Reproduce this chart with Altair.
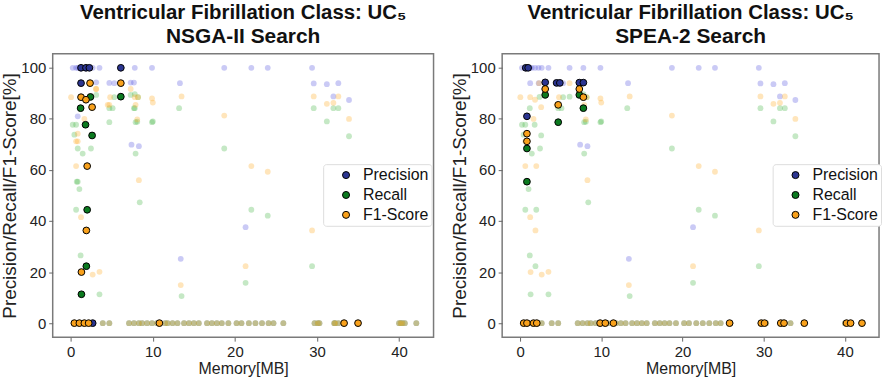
import altair as alt
import pandas as pd

METRICS = ["Precision", "Recall", "F1-Score"]
FAINT_COLORS = ["#5a5ae0", "#4cb84c", "#ffae2a"]
STRONG_COLORS = ["#2b3591", "#0b7a1f", "#f9a11b"]

# memory values where all three metrics are 0 (whole population)
zero_mem = [0.44, 0.85, 1.05, 1.66, 2.06, 2.18, 2.67, 3.9, 4.7, 7.1, 7.7, 8.3, 8.7, 9.3,
            9.9, 10.5, 10.8, 11.5, 11.8, 12.4, 13.0, 13.8, 14.4, 15.0, 15.6, 16.6, 17.2,
            17.8, 18.4, 19.2, 20.2, 20.8, 21.7, 22.5, 23.3, 24.1, 24.7, 25.9, 29.7, 30.1,
            30.3, 32.1, 32.2, 32.6, 33.3, 35.0, 40.0, 40.2, 40.4, 40.7, 42.1]

# whole population (faint points), non-zero values
prec_mem = [0.24, 0.65, 0.85, 1.05, 1.25, 1.45, 1.85, 2.27, 2.67, 3.5, 6.1, 7.8, 9.9, 18.7,
            22.0, 24.0, 29.4, 1.25, 2.3, 3.1, 4.7, 5.3, 7.3, 7.7, 13.3, 29.6, 31.2, 32.6,
            0.85, 7.4, 8.3, 13.4, 21.3, 32.0, 33.9]
prec_val = [100, 100, 100, 100, 100, 100, 100, 100, 100, 100, 100, 100, 100, 100,
            100, 100, 100, 94, 94, 94.3, 94.1, 94, 94.2, 94.2, 94, 93.9, 93.6, 94.0,
            81, 69.9, 69.3, 25.2, 37.6, 88.8, 87.4]
rec_mem = [2.4, 6.1, 3.1, 7.3, 5.3, 7.8, 8.2, 1.2, 4.7, 5.1, 7.7, 13.2, 29.6, 32.0, 32.6,
           7.8, 1.8, 0.24, 0.65, 4.7, 7.9, 8.1, 9.9, 10.0, 31.2, 2.6, 0.44, 33.9, 0.85,
           2.46, 18.7, 1.45, 7.9, 0.73, 0.85, 1.05, 8.4, 2.0, 0.65, 22.0, 24.0, 1.2, 1.9,
           29.4, 21.3, 1.3, 3.5, 13.5]
rec_val = [88.6, 88.7, 89.4, 89.4, 88.5, 89.7, 88.5, 84.2, 84.2, 84.2, 84.2, 84.2, 84.2,
           84.2, 84.2, 84.2, 77.7, 77.7, 77.7, 78.7, 78.7, 78.9, 78.7, 79.0, 79.0, 73.5,
           73.8, 73.2, 68.4, 68.4, 68.4, 66.4, 66.4, 55.4, 55.4, 52.5, 47.3, 44.4, 44.4,
           44.4, 42.1, 26.5, 22.3, 22.3, 15.8, 11.3, 11.3, 10.6]
f1_mem = [2.35, 6.1, 3.1, 3.07, 7.3, 1.25, 0.04, 4.8, 7.8, 8.2, 13.5, 29.6, 32.6, 9.9,
          1.85, 10.0, 32.0, 31.2, 4.5, 7.9, 4.7, 2.6, 18.7, 1.66, 33.9, 8.1, 0.85, 0.65,
          0.85, 2.0, 0.65, 22.0, 24.0, 8.3, 1.25, 1.9, 29.4, 21.3, 1.3, 3.5, 2.67, 13.4]
f1_val = [94, 94, 91.7, 91.7, 91.7, 88.5, 88.5, 88.5, 88.5, 88.5, 88.8, 88.8, 88.8, 88,
          87.5, 86.4, 86.3, 85.9, 85.5, 85.5, 85.5, 84.6, 81.3, 80, 80, 79.8, 74.2, 71.2,
          71.2, 61.5, 61.5, 61.5, 59.3, 56, 41.5, 36.3, 36.3, 22.3, 20.0, 20.1, 19, 14.9]

# NSGA-II front (highlighted)
nsga_prec_mem = [1.25, 1.85, 2.27, 6.1, 1.25, 2.67]
nsga_prec_val = [100, 100, 100, 100, 94, 0]
nsga_rec_mem = [2.4, 6.1, 1.2, 1.8, 2.6, 2.0, 1.9, 1.3]
nsga_rec_val = [88.6, 88.7, 84.2, 77.7, 73.5, 44.4, 22.3, 11.3]
nsga_f1_mem = [2.35, 6.1, 1.25, 1.85, 2.6, 2.0, 1.9, 1.3, 0.44, 1.05, 1.66, 2.18, 10.8, 33.3, 35.0]
nsga_f1_val = [94, 94, 88.5, 87.5, 84.6, 61.5, 36.3, 20.0, 0, 0, 0, 0, 0, 0, 0]

# SPEA-2 front (highlighted)
spea_prec_mem = [0.7, 1.0, 3.1, 4.5, 4.9, 7.3, 7.8, 0.85]
spea_prec_val = [100, 100, 94.3, 94.1, 94.1, 94.2, 94.2, 81]
spea_rec_mem = [3.1, 4.7, 7.3, 7.8, 0.85, 0.85]
spea_rec_val = [89.4, 78.7, 89.4, 84.2, 68.4, 55.4]
spea_f1_mem = [3.1, 4.7, 7.3, 7.8, 0.85, 0.85, 0.45, 0.85, 1.66, 2.06, 9.86, 10.5, 11.5,
               25.8, 29.7, 30.1, 32.1, 32.5, 35.0, 40.2, 40.7, 42.1]
spea_f1_val = [91.7, 85.5, 91.7, 88.5, 74.2, 71.2, 0, 0, 0, 0, 0, 0, 0,
               0, 0, 0, 0, 0, 0, 0, 0, 0]

TITLE = "Ventricular Fibrillation Class: UC\u2085"
SUBTITLES = ["NSGA-II Search", "SPEA-2 Search"]


def frame(series):
    rows = []
    for k, (name, xs, ys) in enumerate(series):
        for x, y in zip(xs, ys):
            rows.append({"mem": x, "val": y, "metric": name, "k": k})
    return pd.DataFrame(rows)


all_df = frame([
    ("Precision", prec_mem + zero_mem, prec_val + [0] * len(zero_mem)),
    ("Recall", rec_mem + zero_mem, rec_val + [0] * len(zero_mem)),
    ("F1-Score", f1_mem + zero_mem, f1_val + [0] * len(zero_mem)),
])
nsga_df = frame([
    ("Precision", nsga_prec_mem, nsga_prec_val),
    ("Recall", nsga_rec_mem, nsga_rec_val),
    ("F1-Score", nsga_f1_mem, nsga_f1_val),
])
spea_df = frame([
    ("Precision", spea_prec_mem, spea_prec_val),
    ("Recall", spea_rec_mem, spea_rec_val),
    ("F1-Score", spea_f1_mem, spea_f1_val),
])

FONT = "Liberation Sans"


def panel(subtitle, hl_df, w):
    x = alt.X("mem:Q", scale=alt.Scale(domain=[-2.2, 44.2], nice=False, zero=False),
              axis=alt.Axis(values=[0, 10, 20, 30, 40], title="Memory[MB]"))
    y = alt.Y("val:Q", scale=alt.Scale(domain=[-5.5, 105.5], nice=False, zero=False),
              axis=alt.Axis(values=[0, 20, 40, 60, 80, 100],
                            title="Precision/Recall/F1-Score[%]",
                            titleFontSize=19, titlePadding=1))
    faint = alt.Chart(all_df).mark_circle(size=34, opacity=0.32).encode(
        x=x, y=y,
        fill=alt.Fill("metric:N", scale=alt.Scale(domain=METRICS, range=FAINT_COLORS), legend=None),
        order=alt.Order("k:Q"),
    )
    strong = alt.Chart(hl_df).mark_circle(size=46, opacity=1, stroke="black", strokeWidth=1).encode(
        x=x, y=y,
        fill=alt.Fill("metric:N", scale=alt.Scale(domain=METRICS, range=STRONG_COLORS),
                      legend=alt.Legend(orient="none", legendX=272, legendY=111, title=None,
                                        labelFontSize=16, labelFont=FONT, labelColor="#111",
                                        symbolType="circle", symbolSize=50,
                                        symbolStrokeColor="black", symbolStrokeWidth=1,
                                        symbolOffset=12, labelOffset=9,
                                        padding=3, rowPadding=4, strokeColor="#dddddd",
                                        fillColor="white", cornerRadius=3)),
        order=alt.Order("k:Q"),
    )
    return alt.layer(faint, strong).resolve_scale(fill="independent").properties(
        width=w, height=285,
        title=alt.TitleParams(TITLE, subtitle=subtitle,
                              fontSize=20.5, font=FONT, fontWeight="bold", color="#111",
                              subtitleFontSize=21, subtitleFont=FONT, subtitleFontWeight="bold",
                              subtitleColor="#111", subtitlePadding=2,
                              anchor="middle", offset=7),
    )


chart = alt.hconcat(panel(SUBTITLES[0], nsga_df, 383), panel(SUBTITLES[1], spea_df, 379),
                    spacing=15).resolve_scale(fill="independent").resolve_legend(
    fill="independent").properties(
    padding={"left": 0, "top": 1, "right": 2, "bottom": 2}
).configure_view(stroke="#7a7a7a", strokeWidth=1.5).configure_axis(
    domain=False, grid=False, tickColor="#666", tickSize=4, labelFontSize=15,
    titleFontSize=16, labelFont=FONT, titleFont=FONT, labelColor="#222",
    titleColor="#222", titleFontWeight="normal", labelPadding=3, titlePadding=2
)

chart.save("out.html", embed_options={"renderer": "svg", "actions": False})
